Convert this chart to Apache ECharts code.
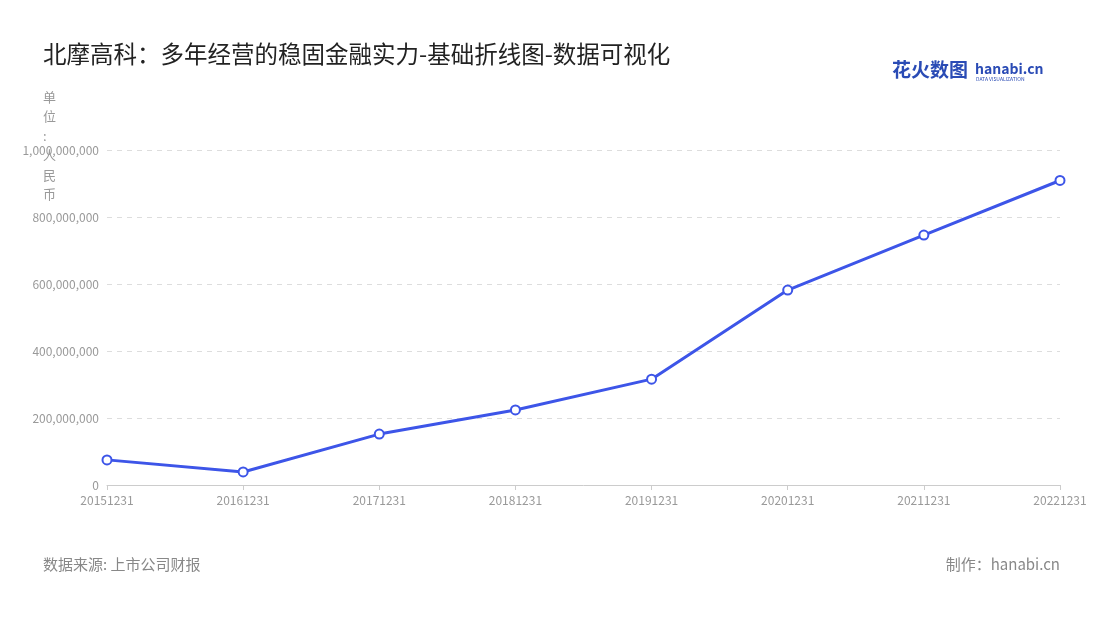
<!DOCTYPE html>
<html><head><meta charset="utf-8">
<script src="https://cdn.jsdelivr.net/npm/echarts@6/dist/echarts.min.js"></script>
<style>html,body{margin:0;padding:0;background:#fff}#c{width:1100px;height:620px}</style>
</head><body><div id="c"></div>
<script>
const categories = ['20151231','20161231','20171231','20181231','20191231','20201231','20211231','20221231'];
const values = [75000000, 39000000, 152000000, 224000000, 316000000, 582000000, 746000000, 909000000];
const titleText = '北摩高科：多年经营的稳固金融实力-基础折线图-数据可视化';
const unitText = '单\n位\n:\n人\n民\n币';
const sourceText = '数据来源: 上市公司财报';
const makerText = '制作：hanabi.cn';
const F = '"Noto Sans CJK SC","Noto Sans",sans-serif';
const chart = echarts.init(document.getElementById('c'));
chart.setOption({
  animation:false,
  textStyle:{fontFamily:F},
  title:{text:titleText,left:38,top:37,textStyle:{fontSize:23.5,fontWeight:'normal',color:'#222',fontFamily:F}},
  grid:{left:107,right:40,top:150,bottom:135},
  xAxis:{type:'category',data:categories,boundaryGap:false,
    axisLine:{lineStyle:{color:'#ccc'}},axisTick:{show:true,lineStyle:{color:'#ccc'}},
    axisLabel:{color:'#999',fontSize:12,margin:9,interval:0}},
  yAxis:{type:'value',min:0,max:1000000000,interval:200000000,
    axisLabel:{color:'#999',fontSize:12,formatter:v=>v.toLocaleString('en-US')},
    splitLine:{lineStyle:{color:'#ddd',type:[5,5]}},axisLine:{show:false},axisTick:{show:false}},
  series:[{type:'line',data:values,symbol:'circle',symbolSize:9,
    lineStyle:{color:'#3d55e8',width:3},
    itemStyle:{color:'#fff',borderColor:'#3d55e8',borderWidth:2}}],
  graphic:[
    {type:'text',left:43,top:87,style:{text:unitText,fill:'#999',font:'13px '+F,lineHeight:19.5}},
    {type:'text',left:43,top:557,style:{text:sourceText,fill:'#888',font:'15px '+F}},
    {type:'text',right:40,top:557,style:{text:makerText,fill:'#888',font:'15px '+F}},
    {type:'text',left:892,top:60,style:{text:'花火数图',fill:'#2a4bb5',font:'bold 19px '+F}},
    {type:'text',left:975,top:62,style:{text:'hanabi.cn',fill:'#2a4bb5',font:'bold 14px '+F}},
    {type:'text',left:976,top:77,style:{text:'DATA VISUALIZATION',fill:'#2a4bb5',font:'5px '+F}}
  ]
});
</script></body></html>
